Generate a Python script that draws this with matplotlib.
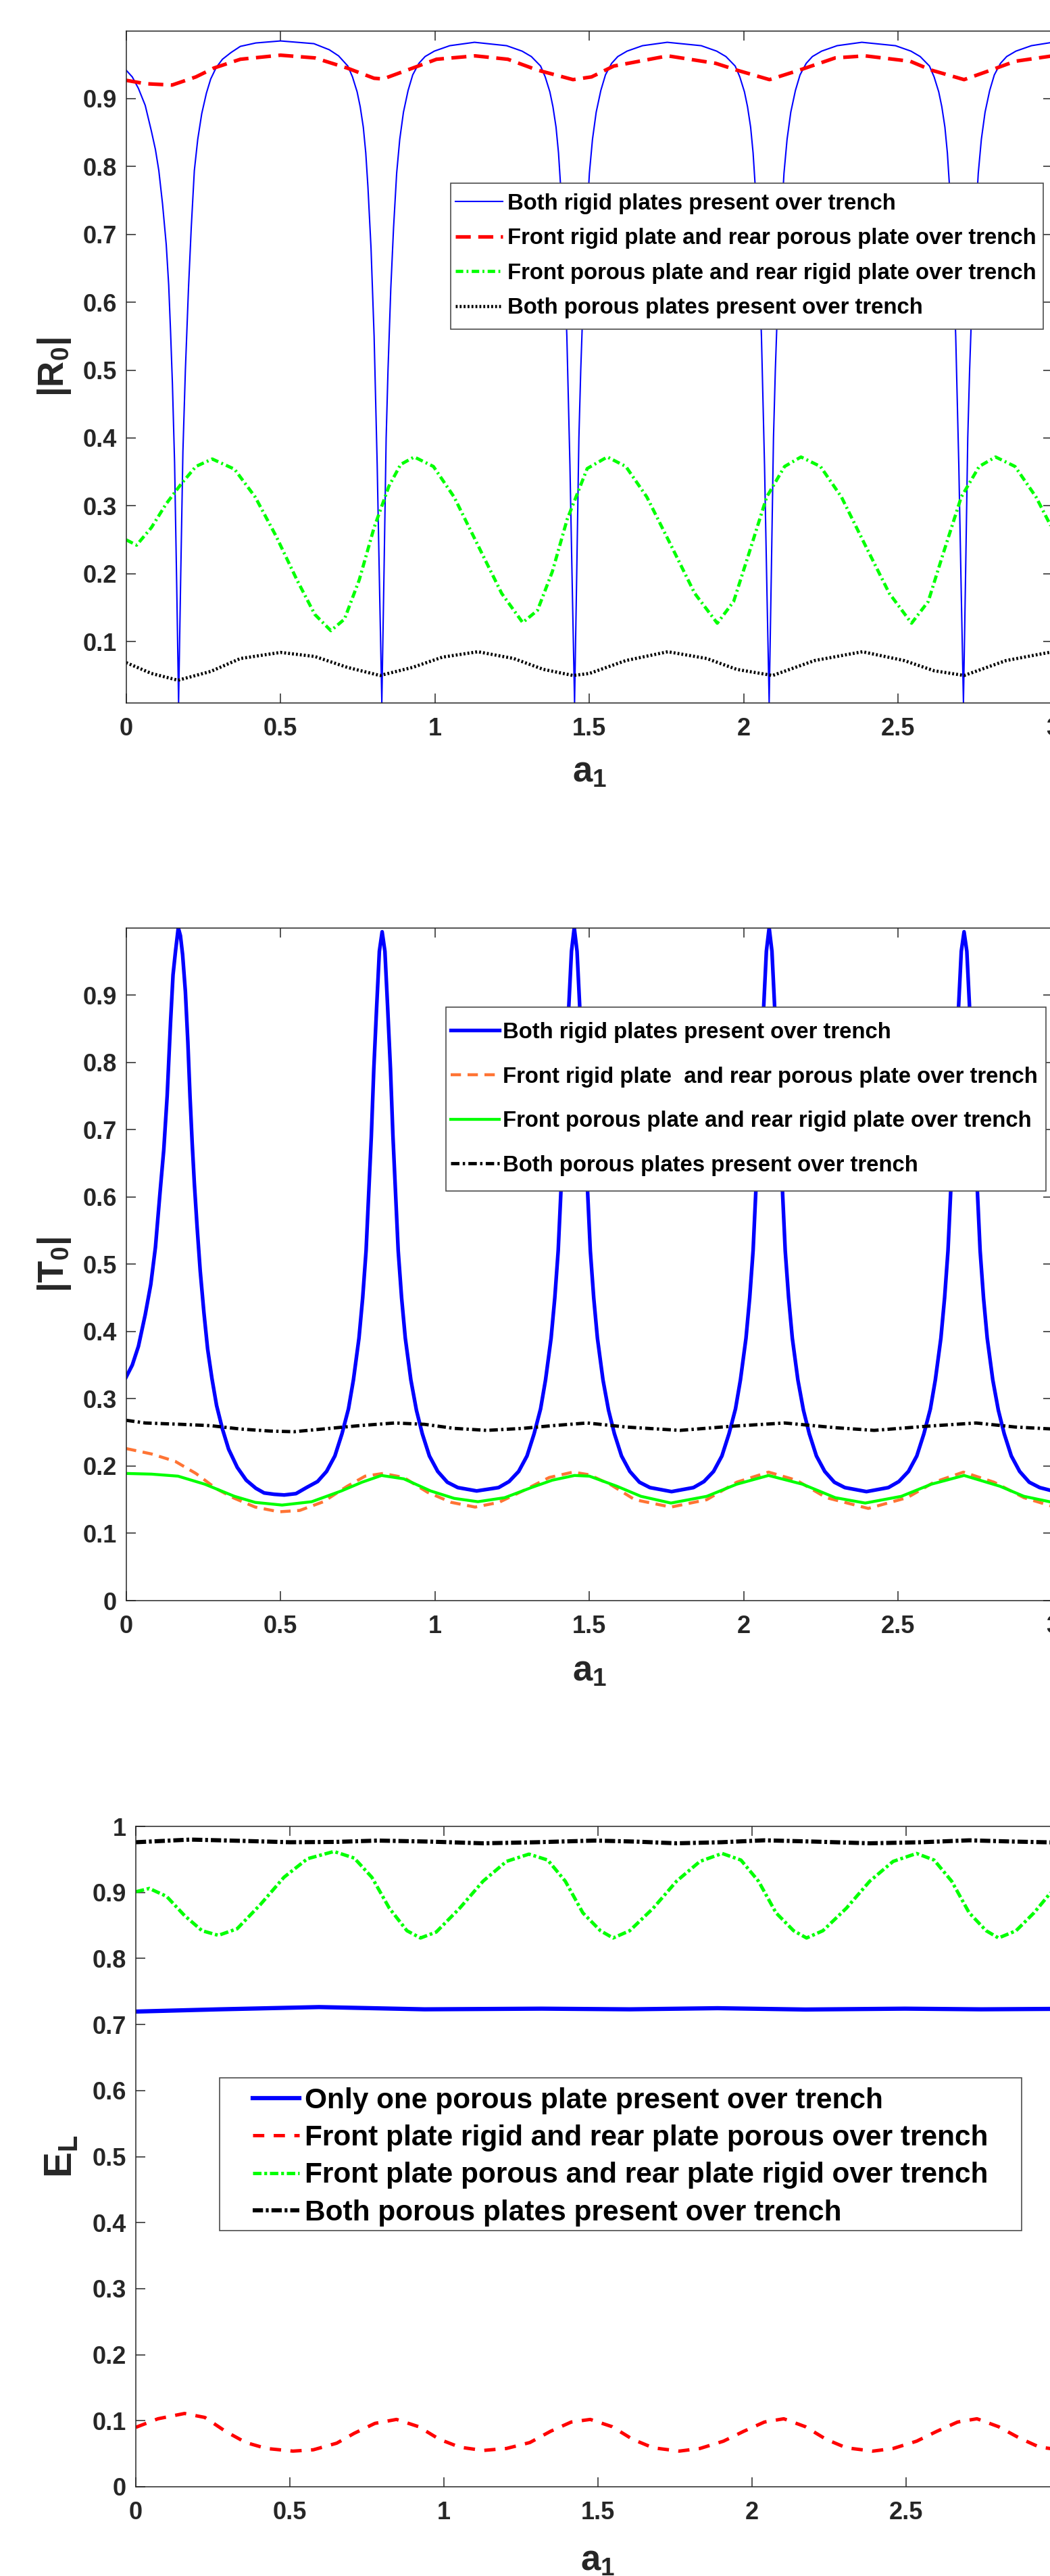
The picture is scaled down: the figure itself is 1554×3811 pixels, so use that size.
"""
|R0|, |T0| and E_L versus a1 for four plate configurations over a trench.
Three stacked panels, saved to out.png (1554 x 3811 px).
"""
import matplotlib
matplotlib.use("Agg")
import matplotlib.pyplot as plt
from matplotlib.patches import Rectangle

plt.rcParams["font.family"] = ["Liberation Sans", "DejaVu Sans"]
plt.rcParams["font.weight"] = "bold"
plt.rcParams["mathtext.fontset"] = "custom"
plt.rcParams["mathtext.rm"] = "Liberation Sans:bold"
plt.rcParams["mathtext.it"] = "Liberation Sans:bold"
plt.rcParams["mathtext.bf"] = "Liberation Sans:bold"
plt.rcParams["mathtext.default"] = "bf"
plt.rcParams["lines.scale_dashes"] = False

W, H = 1554, 3811
INK = "#262626"

# ─────────────────────────────────────────────────────────────
# panel 1 : |R0|
# ─────────────────────────────────────────────────────────────
r_rigid_x = [
    0.000, 0.020, 0.040, 0.062, 0.082, 0.095, 0.106, 0.118, 0.130, 0.138, 0.144, 0.150,
    0.157, 0.164, 0.170, 0.177, 0.184, 0.192, 0.202, 0.211, 0.221, 0.232, 0.245, 0.260,
    0.274, 0.292, 0.312, 0.340, 0.370, 0.420, 0.500,
    0.608, 0.658, 0.688, 0.718, 0.733, 0.748, 0.758, 0.768, 0.776, 0.783, 0.793, 0.803,
    0.813, 0.821, 0.828, 0.835, 0.842, 0.848, 0.857, 0.866, 0.876, 0.886, 0.898, 0.913,
    0.928, 0.948, 0.968, 0.998, 1.048, 1.128,
    1.232, 1.282, 1.312, 1.342, 1.357, 1.372, 1.382, 1.392, 1.400, 1.407, 1.417, 1.427,
    1.437, 1.445, 1.452, 1.459, 1.466, 1.472, 1.481, 1.490, 1.500, 1.510, 1.522, 1.537,
    1.552, 1.572, 1.592, 1.622, 1.672, 1.752,
    1.862, 1.912, 1.942, 1.972, 1.987, 2.002, 2.012, 2.022, 2.030, 2.037, 2.047, 2.057,
    2.067, 2.075, 2.082, 2.089, 2.096, 2.102, 2.111, 2.120, 2.130, 2.140, 2.152, 2.167,
    2.182, 2.202, 2.222, 2.252, 2.302, 2.382,
    2.491, 2.541, 2.571, 2.601, 2.616, 2.631, 2.641, 2.651, 2.659, 2.666, 2.676, 2.686,
    2.696, 2.704, 2.711, 2.718, 2.725, 2.731, 2.740, 2.749, 2.759, 2.769, 2.781, 2.796,
    2.811, 2.831, 2.851, 2.881, 2.931, 3.000]
r_rigid_y = [
    0.942, 0.932, 0.915, 0.890, 0.852, 0.825, 0.794, 0.745, 0.685, 0.625, 0.557, 0.480,
    0.364, 0.180, 0.010, 0.200, 0.380, 0.500, 0.620, 0.710, 0.794, 0.840, 0.878, 0.908,
    0.929, 0.946, 0.958, 0.968, 0.977, 0.982, 0.985,
    0.981, 0.972, 0.963, 0.948, 0.932, 0.910, 0.888, 0.858, 0.820, 0.770, 0.680, 0.550,
    0.360, 0.170, 0.010, 0.200, 0.400, 0.500, 0.620, 0.710, 0.790, 0.840, 0.880, 0.912,
    0.935, 0.952, 0.962, 0.970, 0.978, 0.983,
    0.978, 0.970, 0.962, 0.948, 0.932, 0.910, 0.888, 0.858, 0.820, 0.770, 0.680, 0.550,
    0.360, 0.170, 0.010, 0.200, 0.400, 0.500, 0.620, 0.710, 0.790, 0.840, 0.880, 0.912,
    0.935, 0.952, 0.962, 0.970, 0.978, 0.983,
    0.978, 0.970, 0.962, 0.948, 0.932, 0.910, 0.888, 0.858, 0.820, 0.770, 0.680, 0.550,
    0.360, 0.170, 0.010, 0.200, 0.400, 0.500, 0.620, 0.710, 0.790, 0.840, 0.880, 0.912,
    0.935, 0.952, 0.962, 0.970, 0.978, 0.983,
    0.978, 0.970, 0.962, 0.948, 0.932, 0.910, 0.888, 0.858, 0.820, 0.770, 0.680, 0.550,
    0.360, 0.170, 0.010, 0.200, 0.400, 0.500, 0.620, 0.710, 0.790, 0.840, 0.880, 0.912,
    0.935, 0.952, 0.962, 0.970, 0.978, 0.983]

r_front_rigid_x = [0.000, 0.062, 0.149, 0.226, 0.284, 0.370, 0.500, 0.611, 0.716, 0.803,
                   0.832, 0.928, 1.005, 1.130, 1.236, 1.332, 1.447, 1.507, 1.579, 1.754,
                   1.909, 1.977, 2.083, 2.180, 2.296, 2.393, 2.539, 2.607, 2.713, 2.800,
                   2.878, 3.000]
r_front_rigid_y = [0.927, 0.922, 0.920, 0.932, 0.945, 0.958, 0.964, 0.960, 0.945, 0.930,
                   0.929, 0.945, 0.958, 0.963, 0.958, 0.942, 0.928, 0.932, 0.948, 0.963,
                   0.952, 0.942, 0.928, 0.942, 0.960, 0.963, 0.955, 0.942, 0.928, 0.942,
                   0.955, 0.963]

r_front_porous_x = [0.000, 0.034, 0.082, 0.130, 0.178, 0.226, 0.279, 0.351, 0.418, 0.486,
                    0.553, 0.611, 0.663, 0.707, 0.755, 0.803, 0.851, 0.889, 0.933, 0.995,
                    1.062, 1.139, 1.216, 1.284, 1.332, 1.380, 1.428, 1.493, 1.558, 1.618,
                    1.686, 1.764, 1.841, 1.914, 1.967, 2.016, 2.074, 2.132, 2.185, 2.248,
                    2.316, 2.393, 2.471, 2.543, 2.597, 2.645, 2.704, 2.762, 2.815, 2.878,
                    2.946, 3.000]
r_front_porous_y = [0.250, 0.242, 0.268, 0.303, 0.332, 0.358, 0.369, 0.354, 0.313, 0.255,
                    0.191, 0.140, 0.116, 0.133, 0.191, 0.268, 0.329, 0.361, 0.372, 0.358,
                    0.313, 0.242, 0.171, 0.128, 0.146, 0.203, 0.280, 0.355, 0.372, 0.358,
                    0.313, 0.242, 0.171, 0.127, 0.159, 0.229, 0.313, 0.358, 0.372, 0.358,
                    0.313, 0.242, 0.171, 0.127, 0.159, 0.229, 0.313, 0.358, 0.372, 0.358,
                    0.313, 0.265]

r_porous_x = [0.000, 0.082, 0.168, 0.274, 0.370, 0.500, 0.611, 0.716, 0.822, 0.928,
              1.024, 1.139, 1.255, 1.351, 1.447, 1.500, 1.618, 1.754, 1.880, 1.977,
              2.093, 2.229, 2.384, 2.519, 2.616, 2.713, 2.849, 3.000]
r_porous_y = [0.069, 0.053, 0.043, 0.056, 0.075, 0.084, 0.078, 0.062, 0.050, 0.062,
              0.077, 0.085, 0.075, 0.059, 0.050, 0.053, 0.072, 0.085, 0.075, 0.059,
              0.050, 0.072, 0.085, 0.072, 0.057, 0.050, 0.072, 0.085]

# ─────────────────────────────────────────────────────────────
# panel 2 : |T0|
# ─────────────────────────────────────────────────────────────
t_rigid_x = [
    0.000, 0.020, 0.040, 0.062, 0.080, 0.095, 0.110, 0.122, 0.133, 0.144, 0.152, 0.160,
    0.169, 0.176, 0.183, 0.192, 0.200, 0.207, 0.214, 0.221, 0.230, 0.240, 0.252, 0.264,
    0.278, 0.293, 0.312, 0.332, 0.360, 0.389, 0.420, 0.447, 0.480, 0.512,
    0.550, 0.584, 0.620, 0.649, 0.676, 0.699, 0.720, 0.736, 0.754, 0.766, 0.777, 0.785,
    0.794, 0.802, 0.811, 0.820, 0.829, 0.838, 0.847, 0.856, 0.864, 0.873, 0.881, 0.892,
    0.904, 0.922, 0.940, 0.959, 0.982, 1.009, 1.040, 1.074, 1.135,
    1.206, 1.240, 1.271, 1.298, 1.321, 1.342, 1.358, 1.376, 1.388, 1.399, 1.407, 1.416,
    1.424, 1.433, 1.442, 1.451, 1.460, 1.469, 1.478, 1.486, 1.495, 1.503, 1.514, 1.526,
    1.544, 1.562, 1.581, 1.604, 1.631, 1.662, 1.696, 1.766,
    1.837, 1.871, 1.902, 1.929, 1.952, 1.973, 1.989, 2.007, 2.019, 2.030, 2.038, 2.047,
    2.055, 2.064, 2.073, 2.082, 2.091, 2.100, 2.109, 2.117, 2.126, 2.134, 2.145, 2.157,
    2.175, 2.193, 2.212, 2.235, 2.262, 2.293, 2.327, 2.397,
    2.468, 2.502, 2.533, 2.560, 2.583, 2.604, 2.620, 2.638, 2.650, 2.661, 2.669, 2.678,
    2.686, 2.695, 2.704, 2.713, 2.722, 2.731, 2.740, 2.748, 2.757, 2.765, 2.776, 2.788,
    2.806, 2.824, 2.843, 2.866, 2.893, 2.924, 2.958, 3.000]
t_rigid_y = [
    0.332, 0.350, 0.378, 0.425, 0.470, 0.525, 0.607, 0.670, 0.750, 0.860, 0.930, 0.965,
    1.000, 0.988, 0.960, 0.905, 0.830, 0.749, 0.680, 0.620, 0.555, 0.490, 0.428, 0.374,
    0.330, 0.290, 0.255, 0.225, 0.198, 0.179, 0.167, 0.160, 0.158, 0.157,
    0.159, 0.168, 0.177, 0.192, 0.215, 0.248, 0.285, 0.328, 0.390, 0.450, 0.520, 0.600,
    0.690, 0.790, 0.880, 0.965, 0.994, 0.965, 0.880, 0.790, 0.690, 0.600, 0.520, 0.450,
    0.390, 0.328, 0.283, 0.248, 0.215, 0.192, 0.176, 0.168, 0.163,
    0.168, 0.177, 0.192, 0.215, 0.248, 0.285, 0.328, 0.390, 0.450, 0.520, 0.600, 0.690,
    0.790, 0.880, 0.965, 1.000, 0.965, 0.880, 0.790, 0.690, 0.600, 0.520, 0.450, 0.390,
    0.328, 0.283, 0.248, 0.215, 0.192, 0.176, 0.168, 0.162,
    0.168, 0.177, 0.192, 0.215, 0.248, 0.285, 0.328, 0.390, 0.450, 0.520, 0.600, 0.690,
    0.790, 0.880, 0.965, 1.000, 0.965, 0.880, 0.790, 0.690, 0.600, 0.520, 0.450, 0.390,
    0.328, 0.283, 0.248, 0.215, 0.192, 0.176, 0.168, 0.162,
    0.168, 0.177, 0.192, 0.215, 0.248, 0.285, 0.328, 0.390, 0.450, 0.520, 0.600, 0.690,
    0.790, 0.880, 0.965, 0.994, 0.965, 0.880, 0.790, 0.690, 0.600, 0.520, 0.450, 0.390,
    0.328, 0.283, 0.248, 0.215, 0.192, 0.176, 0.168, 0.163]

t_front_rigid_x = [0.000, 0.082, 0.159, 0.226, 0.293, 0.351, 0.418, 0.495, 0.562, 0.639,
                   0.716, 0.774, 0.832, 0.899, 0.976, 1.053, 1.130, 1.207, 1.284, 1.370,
                   1.447, 1.500, 1.570, 1.647, 1.764, 1.880, 1.977, 2.080, 2.170, 2.267,
                   2.403, 2.529, 2.616, 2.711, 2.810, 2.907, 3.000]
t_front_rigid_y = [0.226, 0.218, 0.207, 0.189, 0.166, 0.152, 0.139, 0.132, 0.134, 0.147,
                   0.170, 0.185, 0.189, 0.183, 0.161, 0.146, 0.139, 0.146, 0.163, 0.183,
                   0.191, 0.187, 0.172, 0.150, 0.139, 0.150, 0.176, 0.191, 0.179, 0.153,
                   0.137, 0.153, 0.176, 0.191, 0.176, 0.153, 0.140]

t_front_porous_x = [0.000, 0.082, 0.168, 0.255, 0.351, 0.418, 0.505, 0.601, 0.697, 0.764,
                    0.827, 0.899, 0.986, 1.062, 1.139, 1.226, 1.312, 1.380, 1.452, 1.500,
                    1.589, 1.667, 1.764, 1.880, 1.977, 2.080, 2.190, 2.296, 2.393, 2.510,
                    2.607, 2.713, 2.829, 2.907, 3.000]
t_front_porous_y = [0.189, 0.188, 0.185, 0.173, 0.155, 0.146, 0.142, 0.147, 0.163, 0.176,
                    0.186, 0.181, 0.163, 0.152, 0.147, 0.153, 0.168, 0.179, 0.186, 0.185,
                    0.170, 0.155, 0.145, 0.155, 0.173, 0.186, 0.173, 0.153, 0.145, 0.155,
                    0.173, 0.186, 0.170, 0.155, 0.146]

t_porous_x = [0.000, 0.062, 0.178, 0.274, 0.370, 0.466, 0.543, 0.659, 0.755, 0.870,
              0.966, 1.062, 1.168, 1.284, 1.380, 1.493, 1.618, 1.793, 1.957, 2.132,
              2.296, 2.422, 2.587, 2.752, 2.878, 3.000]
t_porous_y = [0.268, 0.264, 0.262, 0.260, 0.255, 0.252, 0.251, 0.256, 0.260, 0.264,
              0.262, 0.256, 0.253, 0.256, 0.260, 0.264, 0.258, 0.253, 0.259, 0.264,
              0.257, 0.253, 0.259, 0.264, 0.258, 0.255]

# ─────────────────────────────────────────────────────────────
# panel 3 : E_L
# ─────────────────────────────────────────────────────────────
e_one_x = [0.000, 0.272, 0.595, 0.937, 1.317, 1.603, 1.888, 2.173, 2.496, 2.743, 3.000]
e_one_y = [0.7196, 0.7230, 0.7264, 0.7230, 0.7240, 0.7230, 0.7247, 0.7227, 0.7240,
           0.7230, 0.7237]

e_front_rigid_x = [0.000, 0.072, 0.158, 0.224, 0.291, 0.357, 0.424, 0.510, 0.576, 0.652,
                   0.709, 0.776, 0.846, 0.918, 0.985, 1.051, 1.127, 1.203, 1.279, 1.346,
                   1.413, 1.475, 1.546, 1.612, 1.679, 1.764, 1.831, 1.907, 1.973, 2.040,
                   2.103, 2.173, 2.240, 2.306, 2.392, 2.458, 2.534, 2.600, 2.667, 2.730,
                   2.800, 2.867, 2.933, 3.000]
e_front_rigid_y = [0.090, 0.103, 0.111, 0.105, 0.084, 0.067, 0.058, 0.054, 0.056, 0.066,
                   0.081, 0.096, 0.102, 0.091, 0.072, 0.060, 0.055, 0.058, 0.067, 0.084,
                   0.098, 0.102, 0.091, 0.072, 0.059, 0.054, 0.058, 0.069, 0.084, 0.098,
                   0.103, 0.091, 0.072, 0.059, 0.054, 0.058, 0.069, 0.084, 0.098, 0.103,
                   0.091, 0.074, 0.060, 0.056]

e_front_porous_x = [0.000, 0.044, 0.100, 0.158, 0.215, 0.268, 0.329, 0.405, 0.481, 0.557,
                    0.643, 0.709, 0.766, 0.823, 0.880, 0.924, 0.975, 1.051, 1.127, 1.203,
                    1.276, 1.337, 1.394, 1.451, 1.508, 1.549, 1.603, 1.679, 1.755, 1.831,
                    1.903, 1.964, 2.021, 2.078, 2.135, 2.177, 2.230, 2.306, 2.382, 2.458,
                    2.534, 2.591, 2.648, 2.705, 2.760, 2.800, 2.857, 2.915, 2.970, 3.000]
e_front_porous_y = [0.901, 0.906, 0.894, 0.865, 0.842, 0.835, 0.845, 0.882, 0.923, 0.951,
                    0.962, 0.952, 0.923, 0.876, 0.842, 0.831, 0.840, 0.876, 0.917, 0.947,
                    0.958, 0.949, 0.917, 0.869, 0.842, 0.831, 0.842, 0.876, 0.917, 0.947,
                    0.959, 0.949, 0.917, 0.869, 0.842, 0.831, 0.842, 0.876, 0.917, 0.947,
                    0.959, 0.949, 0.917, 0.869, 0.842, 0.831, 0.842, 0.869, 0.900, 0.912]

e_porous_x = [0.000, 0.177, 0.350, 0.500, 0.650, 0.785, 0.950, 1.127, 1.300, 1.489,
              1.620, 1.755, 1.900, 2.040, 2.200, 2.382, 2.550, 2.705, 2.850, 3.000]
e_porous_y = [0.9760, 0.9800, 0.9780, 0.9760, 0.9765, 0.9785, 0.9770, 0.9744, 0.9760,
              0.9785, 0.9770, 0.9744, 0.9760, 0.9789, 0.9770, 0.9744, 0.9760, 0.9789,
              0.9770, 0.9755]

X_TICKS = [0, 0.5, 1, 1.5, 2, 2.5, 3]
X_TICKLABELS = ["0", "0.5", "1", "1.5", "2", "2.5", "3"]

LABELS_R = ["Both rigid plates present over trench",
            "Front rigid plate and rear porous plate over trench",
            "Front porous plate and rear rigid plate over trench",
            "Both porous plates present over trench"]
LABELS_T = ["Both rigid plates present over trench",
            "Front rigid plate  and rear porous plate over trench",
            "Front porous plate and rear rigid plate over trench",
            "Both porous plates present over trench"]
LABELS_E = ["Only one porous plate present over trench",
            "Front plate rigid and rear plate porous over trench",
            "Front plate porous and rear plate rigid over trench",
            "Both porous plates present over trench"]


def px_axes(fig, left, top, right, bottom):
    # pixel box (image coords, y down) -> figure fraction
    return fig.add_axes([left / W, 1 - bottom / H, (right - left) / W, (bottom - top) / H])


def tick_text(v):
    s = "%.1f" % v
    return s[:-2] if s.endswith(".0") else s


def style_axes(ax, yticks, ylim, ylabel, ylab_x, xlab_y, lab_fs=38):
    ax.set_xlim(0, 3)
    ax.set_ylim(*ylim)
    ax.set_xticks(X_TICKS)
    ax.set_xticklabels(X_TICKLABELS)
    ax.set_yticks(yticks)
    ax.set_yticklabels([tick_text(v) for v in yticks])
    ax.tick_params(direction="in", length=10, width=1.1, top=True, right=True,
                   labelsize=26, color=INK, labelcolor=INK)
    ax.tick_params(axis="x", pad=15)
    ax.tick_params(axis="y", pad=10)
    for sp in ax.spines.values():
        sp.set_color(INK)
        sp.set_linewidth(1.1)
    ax.set_ylabel(ylabel, fontsize=lab_fs, color=INK)
    ax.yaxis.set_label_coords(ylab_x, 0.5)
    ax.set_xlabel(r"$a_1$", fontsize=38, color=INK)
    ax.xaxis.set_label_coords(0.5, xlab_y)


def boxed_legend(fig, ax, frame, anchor, fs, spacing, hlen, hpad):
    # frame / anchor in image pixels; manual frame so the padding matches
    l, t, r, b = frame
    ax.add_patch(Rectangle((l / W, 1 - b / H), (r - l) / W, (b - t) / H,
                           transform=fig.transFigure, facecolor="white",
                           edgecolor="#4d4d4d", linewidth=1.2, zorder=4, clip_on=False))
    leg = ax.legend(loc="upper left", bbox_to_anchor=(anchor[0] / W, 1 - anchor[1] / H),
                    bbox_transform=fig.transFigure, frameon=False, borderpad=0,
                    borderaxespad=0, fontsize=fs, labelspacing=spacing,
                    handlelength=hlen, handletextpad=hpad)
    leg.set_zorder(5)
    for txt in leg.get_texts():
        txt.set_fontweight("bold")
    return leg


def main():
    fig = plt.figure(figsize=(W / 100, H / 100), dpi=100)

    # ── panel 1 ──
    ax1 = px_axes(fig, 186.6, 46, 1558, 1040)
    ax1.plot(r_rigid_x, r_rigid_y, color="#0000ff", lw=1.5, label=LABELS_R[0])
    ax1.plot(r_front_rigid_x, r_front_rigid_y, color="#ff0000", lw=3.8,
             linestyle=(0, (16, 8)), label=LABELS_R[1])
    ax1.plot(r_front_porous_x, r_front_porous_y, color="#00ff00", lw=3.4,
             linestyle=(0, (8, 3.5, 2, 3.5)), label=LABELS_R[2])
    ax1.plot(r_porous_x, r_porous_y, color="black", lw=3.4,
             linestyle=(0, (2, 2.2)), label=LABELS_R[3])
    style_axes(ax1, [0.1 * i for i in range(1, 10)], (0.0095, 0.9995),
               r"$|R_0|$", -0.057, -0.078)
    boxed_legend(fig, ax1, (667, 271, 1544, 487), (674, 286), 23.7, 0.62, 2.13, 0.21)

    # ── panel 2 ──
    ax2 = px_axes(fig, 186.6, 1373, 1558, 2368)
    ax2.plot(t_rigid_x, t_rigid_y, color="#0000ff", lw=3.9, label=LABELS_T[0])
    ax2.plot(t_front_rigid_x, t_front_rigid_y, color="#ff7434", lw=3.2,
             linestyle=(0, (11, 7)), label=LABELS_T[1])
    ax2.plot(t_front_porous_x, t_front_porous_y, color="#00ff00", lw=3.1, label=LABELS_T[2])
    ax2.plot(t_porous_x, t_porous_y, color="black", lw=3.5,
             linestyle=(0, (9, 3.5, 2.5, 3.5)), label=LABELS_T[3])
    style_axes(ax2, [0.1 * i for i in range(0, 10)], (0, 0.9995),
               r"$|T_0|$", -0.057, -0.080)
    boxed_legend(fig, ax2, (660, 1490, 1548, 1762), (667, 1512), 23.7, 1.05, 2.19, 0.15)

    # ── panel 3 ──
    ax3 = px_axes(fig, 201, 2702, 1569, 3679)
    ax3.plot(e_one_x, e_one_y, color="#0000ff", lw=4.5, label=LABELS_E[0])
    ax3.plot(e_front_rigid_x, e_front_rigid_y, color="#ff0000", lw=3.6,
             linestyle=(0, (12, 10)), label=LABELS_E[1])
    ax3.plot(e_front_porous_x, e_front_porous_y, color="#00ff00", lw=3.6,
             linestyle=(0, (9, 3, 3, 3)), label=LABELS_E[2])
    ax3.plot(e_porous_x, e_porous_y, color="black", lw=4.4,
             linestyle=(0, (11, 3, 3, 3)), label=LABELS_E[3])
    style_axes(ax3, [0.1 * i for i in range(0, 11)], (0, 1),
               r"$E_L$", -0.061, -0.087, lab_fs=41)
    boxed_legend(fig, ax3, (325, 3074, 1512, 3300), (374, 3088), 30.5, 0.36, 1.63, 0.19)

    fig.savefig("out.png", dpi=100)
    plt.close(fig)


if __name__ == "__main__":
    main()
